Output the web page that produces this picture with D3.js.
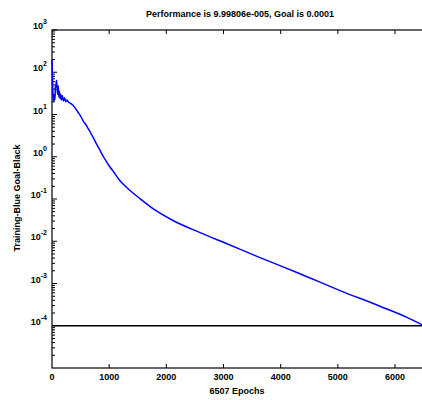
<!DOCTYPE html>
<html>
<head>
<meta charset="utf-8">
<script src="https://cdn.jsdelivr.net/npm/d3@7"></script>
<style>
	body { margin: 0; background: #fff; }
	svg { display: block; font-family: "Liberation Sans", Arial, sans-serif; }
	.lbl { font-size: 9px; font-weight: bold; fill: #000; }
</style>
</head>
<body>
<div id="chart"><svg width="422" height="400"></svg></div>
<script>

// training performance
const epochs = [0, 10, 20, 30, 40, 50, 60, 70, 80, 90, 100, 110, 120, 130, 140, 150, 165, 180, 200, 220, 240, 260, 290, 320, 367, 410, 455, 500, 542, 590, 630, 680, 717, 780, 840, 900, 962, 1010, 1067, 1189, 1312, 1539, 1767, 2117, 2589, 3061, 3638, 4338, 5038, 5737, 6200, 6507];
const perf = [194, 60, 24, 21, 28, 22, 45, 52, 65, 38, 30, 48, 26, 35, 24, 30, 22, 28, 21, 25, 20, 22, 19.5, 18.5, 16.6, 14, 11.3, 9.2, 7.2, 5.8, 4.7, 3.6, 2.9, 2.0, 1.42, 1.0, 0.73, 0.58, 0.46, 0.27, 0.185, 0.102, 0.059, 0.031, 0.016, 0.0087, 0.0041, 0.0017, 6.8e-4, 2.9e-4, 1.6e-4, 9.998e-5];

const goal = 0.0001;
const xTicks = [0, 1000, 2000, 3000, 4000, 5000, 6000];
const yExponents = [3, 2, 1, 0, -1, -2, -3, -4];
const titleText = "Performance is 9.99806e-005, Goal is 0.0001";
const xLabelText = "6507 Epochs";
const yLabelText = "Training-Blue  Goal-Black";

const data = epochs.map((e, i) => ({epoch: e, value: perf[i]}));

// setup
const svg = d3.select("#chart").select("svg");
const margin = {top: 30, left: 52};
const plotRight = 424;
const plotBottom = 368;

// scales
const xScale = d3.scaleLinear()
	.domain([0, 6507])
	.range([margin.left, plotRight]);

const yScale = d3.scaleLog()
	.domain([1e-5, 1e3])
	.range([plotBottom, margin.top]);

// box
svg.append("rect")
	.attr("x", margin.left)
	.attr("y", margin.top)
	.attr("width", plotRight - margin.left)
	.attr("height", plotBottom - margin.top)
	.attr("fill", "none")
	.attr("stroke", "#000")
	.attr("stroke-width", 1.2);

// x ticks, inward at bottom and top
svg.selectAll(".xTick")
  .data(xTicks.slice(1))
	.enter()
  .append("path")
	.attr("class", "xTick")
	.attr("d", d => `M${xScale(d)},${plotBottom}v-4M${xScale(d)},${margin.top}v4`)
	.attr("stroke", "#000")
	.attr("stroke-width", 1);

svg.selectAll(".xTickLabel")
  .data(xTicks)
	.enter()
  .append("text")
	.attr("class", "lbl")
	.attr("x", d => xScale(d))
	.attr("y", plotBottom + 12)
	.attr("text-anchor", "middle")
	.text(d => d);

// y ticks, major and minor
const minor = [];
for (let p = -5; p < 3; p++) {
	for (let k = 2; k < 10; k++) minor.push(k * Math.pow(10, p));
}

svg.selectAll(".yMinor")
  .data(minor)
	.enter()
  .append("line")
	.attr("x1", margin.left)
	.attr("x2", margin.left + 3)
	.attr("y1", d => yScale(d))
	.attr("y2", d => yScale(d))
	.attr("stroke", "#000")
	.attr("stroke-width", 1);

svg.selectAll(".yMajor")
  .data(yExponents)
	.enter()
  .append("line")
	.attr("x1", margin.left)
	.attr("x2", margin.left + 5)
	.attr("y1", d => yScale(Math.pow(10, d)))
	.attr("y2", d => yScale(Math.pow(10, d)))
	.attr("stroke", "#000")
	.attr("stroke-width", 1);

const yLab = svg.selectAll(".yTickLabel")
  .data(yExponents)
	.enter()
  .append("text")
	.attr("class", "lbl")
	.attr("x", 47)
	.attr("y", d => yScale(Math.pow(10, d)) - 1)
	.attr("text-anchor", "end");

yLab.append("tspan").text("10");
yLab.append("tspan")
	.attr("dy", -5)
	.attr("font-size", "7px")
	.text(d => d);

// goal line
svg.append("line")
	.attr("x1", margin.left)
	.attr("x2", plotRight)
	.attr("y1", yScale(goal))
	.attr("y2", yScale(goal))
	.attr("stroke", "#000")
	.attr("stroke-width", 1.5);

// training line
const line = d3.line()
	.curve(d3.curveMonotoneX)
	.x(d => xScale(d.epoch))
	.y(d => yScale(d.value));

svg.append("path")
  .datum(data)
	.attr("fill", "none")
	.attr("stroke", "#0000ff")
	.attr("stroke-width", 1.5)
	.attr("d", line);

// title and labels
svg.append("text")
	.attr("class", "lbl")
	.attr("x", 240)
	.attr("y", 17)
	.attr("text-anchor", "middle")
	.text(titleText);

svg.append("text")
	.attr("class", "lbl")
	.attr("x", 237)
	.attr("y", 394)
	.attr("text-anchor", "middle")
	.text(xLabelText);

svg.append("text")
	.attr("class", "lbl")
	.attr("transform", "translate(20, 198) rotate(-90)")
	.attr("text-anchor", "middle")
	.text(yLabelText);

</script>
</body>
</html>
